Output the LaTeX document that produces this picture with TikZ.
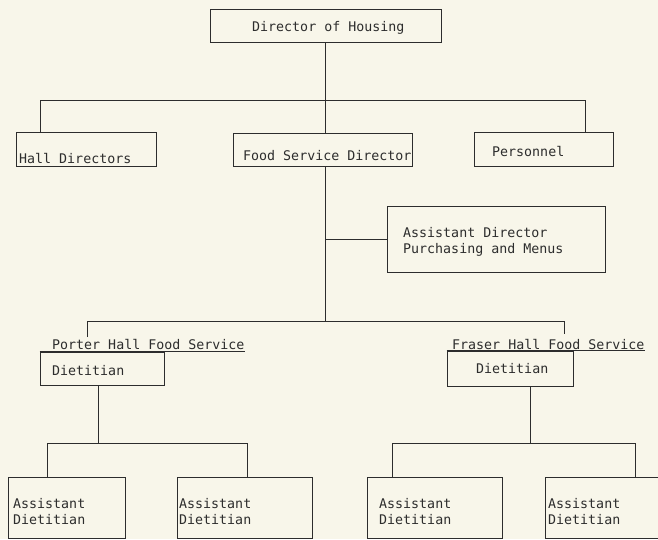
\documentclass[tikz,border=0pt]{standalone}
\usepackage{fontspec}
\setmonofont{DejaVu Sans Mono}
\definecolor{paper}{RGB}{248,246,234}
\definecolor{ink}{RGB}{45,45,45}
\begin{document}
\begin{tikzpicture}[x=1pt,y=-1pt,
  box/.style={draw=ink,line width=0.8pt,rectangle,inner sep=0pt},
  txt/.style={anchor=base west,inner sep=0pt,text=ink,align=left,
    font=\ttfamily\fontsize{13.3}{16}\selectfont},
  conn/.style={draw=ink,line width=0.8pt}]
\fill[paper] (0,0) rectangle (658,539);
\useasboundingbox (0,0) rectangle (658,539);
\clip (0,0) rectangle (658,539);
% boxes
\node[box,minimum width=231pt,minimum height=33pt] (doh) at (325.5,25.5) {};
\node[box,minimum width=140pt,minimum height=34pt] (hall) at (86,149) {};
\node[box,minimum width=179pt,minimum height=33pt] (fsd) at (322.5,149.5) {};
\node[box,minimum width=139pt,minimum height=34pt] (per) at (543.5,149) {};
\node[box,minimum width=218pt,minimum height=66pt] (ad) at (496,239) {};
\node[box,minimum width=124pt,minimum height=33pt] (pd) at (102,368.5) {};
\node[box,minimum width=126pt,minimum height=35pt] (fd) at (510,368.5) {};
\node[box,minimum width=117pt,minimum height=61pt] (a1) at (66.5,507.5) {};
\node[box,minimum width=135pt,minimum height=61pt] (a2) at (244.5,507.5) {};
\node[box,minimum width=135pt,minimum height=61pt] (a3) at (434.5,507.5) {};
\node[box,minimum width=135pt,minimum height=61pt] (a4) at (612.5,507.5) {};
% texts (base anchor = baseline of last line)
\node[txt] (tdoh) at (252,31) {Director of Housing};
\node[txt] (thall) at (19,163) {Hall Directors};
\node[txt] (tfsd) at (243,160) {Food Service Director};
\node[txt] (tper) at (492,156) {Personnel};
\node[txt] (tad) at (403,253) {Assistant Director\\Purchasing and Menus};
\node[txt] (ptext) at (52,349) {Porter Hall Food Service};
\node[txt] (tpd) at (52,375) {Dietitian};
\node[txt] (ftext) at (452,349) {Fraser Hall Food Service};
\node[txt] (tfd) at (476,373) {Dietitian};
\node[txt] (ta1) at (13,524) {Assistant\\Dietitian};
\node[txt] (ta2) at (179,524) {Assistant\\Dietitian};
\node[txt] (ta3) at (379,524) {Assistant\\Dietitian};
\node[txt] (ta4) at (548,524) {Assistant\\Dietitian};
% underlines
\draw[conn] (pd.north west) -- (ptext.east |- pd.north);
\draw[conn] (fd.north west) -- (ftext.east |- fd.north);
% connectors, top level
\coordinate (bh1) at (40,100);
\coordinate (bh3) at (585,100);
\draw[conn] (doh.south) -- (doh.south |- bh1);
\draw[conn] (bh1 |- hall.north) -- (bh1) -- (bh3) -- (bh3 |- per.north);
\draw[conn] (doh.south |- bh1) -- (doh.south |- fsd.north);
% food service director down
\coordinate (bm) at (325,321);
\coordinate (bl) at (87,321);
\coordinate (br) at (564,321);
\coordinate (blt) at (87,337);
\coordinate (brt) at (564,334);
\draw[conn] (bm |- fsd.south) -- (bm);
\draw[conn] (bm |- ad.west) -- (ad.west);
\draw[conn] (blt) -- (bl) -- (br) -- (brt);
% porter branch
\coordinate (pv) at (98,443);
\coordinate (pl) at (47,443);
\coordinate (pr) at (247,443);
\draw[conn] (pv |- pd.south) -- (pv);
\draw[conn] (pl |- a1.north) -- (pl) -- (pr) -- (pr |- a2.north);
% fraser branch
\coordinate (fv) at (530,443);
\coordinate (fl) at (392,443);
\coordinate (fr) at (635,443);
\draw[conn] (fv |- fd.south) -- (fv);
\draw[conn] (fl |- a3.north) -- (fl) -- (fr) -- (fr |- a4.north);
\end{tikzpicture}
\end{document}
